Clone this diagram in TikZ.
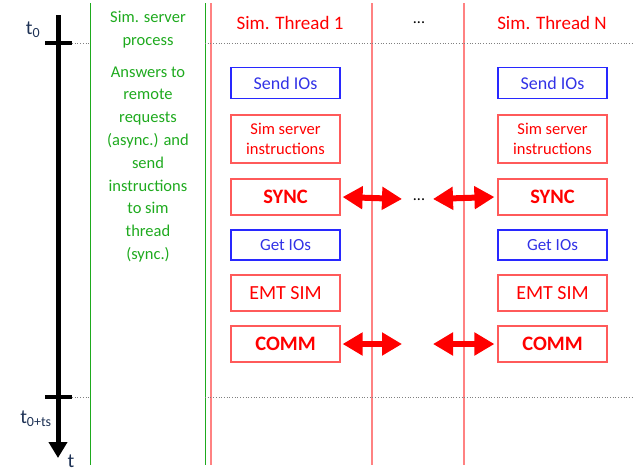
\documentclass[tikz,border=0pt]{standalone}
\usepackage{fontspec}
\setmainfont{Carlito}
\usetikzlibrary{arrows.meta}
\definecolor{mygreen}{RGB}{30,170,30}
\definecolor{linered}{RGB}{255,130,130}
\definecolor{boxred}{RGB}{255,90,90}
\definecolor{txtred}{RGB}{255,0,0}
\definecolor{boxblue}{RGB}{40,40,255}
\definecolor{txtblue}{RGB}{50,50,230}
\definecolor{tcol}{RGB}{30,50,85}
\begin{document}
\begin{tikzpicture}[x=1pt,y=-1pt,
  redbox/.style={draw=boxred,line width=1.2pt,minimum width=109pt,minimum height=36pt,inner sep=0pt,text=txtred,align=center,font=\fontsize{20}{22}\selectfont},
  bluebox/.style={draw=boxblue,line width=1.2pt,minimum width=109pt,minimum height=31pt,inner sep=0pt,text=txtblue,font=\fontsize{18}{20}\selectfont},
  instrbox/.style={redbox,minimum height=48pt,font=\fontsize{16.5}{20}\selectfont},
  boldbox/.style={redbox,font=\fontsize{20.5}{22}\selectfont\bfseries},
  bigarrow/.style={txtred,line width=6pt,{Triangle[length=20pt,width=22pt]}-{Triangle[length=20pt,width=22pt]}},
  dotline/.style={gray,dotted,line width=0.7pt},
  gline/.style={mygreen,line width=1pt},
  rline/.style={linered,line width=1.5pt},
  hdr/.style={text=txtred,font=\fontsize{19}{21}\selectfont},
  gtext/.style={text=mygreen,align=center,font=\fontsize{16.5}{22.8}\selectfont},
  tlab/.style={text=tcol,font=\fontsize{20}{22}\selectfont}
]
\useasboundingbox (0,0) rectangle (642,472);
% vertical lines
\coordinate (g1t) at (90,3); \coordinate (g1b) at (90,465);
\coordinate (g2t) at (205,3); \coordinate (g2b) at (205,465);
\coordinate (r1t) at (211,3); \coordinate (r1b) at (211,465);
\coordinate (r2t) at (372,3); \coordinate (r2b) at (372,465);
\coordinate (r3t) at (464,3); \coordinate (r3b) at (464,465);
\draw[gline] (g1t) -- (g1b);
\draw[gline] (g2t) -- (g2b);
\draw[rline] (r1t) -- (r1b);
\draw[rline] (r2t) -- (r2b);
\draw[rline] (r3t) -- (r3b);
% dotted lines
\coordinate (d1a) at (72,43); \coordinate (d1b) at (89,43);
\coordinate (d1c) at (205,43); \coordinate (d1d) at (632,43);
\coordinate (d2a) at (72,397); \coordinate (d2b) at (89,397);
\coordinate (d2c) at (205,397); \coordinate (d2d) at (632,397);
\draw[dotline] (d1a) -- (d1b);
\draw[dotline] (d1c) -- (d1d);
\draw[dotline] (d2a) -- (d2b);
\draw[dotline] (d2c) -- (d2d);
% time axis
\coordinate (axt) at (58,15); \coordinate (axb) at (58,458);
\draw[black,line width=5pt,-{Triangle[length=16pt,width=18pt]}] (axt) -- (axb);
\coordinate (tk1a) at (45,43); \coordinate (tk1b) at (72,43);
\coordinate (tk2a) at (45,397); \coordinate (tk2b) at (72,397);
\draw[black,line width=4.5pt] (tk1a) -- (tk1b);
\draw[black,line width=4.5pt] (tk2a) -- (tk2b);
\node[tlab] (t0) at (33,30) {t\textsubscript{0}};
\node[tlab] (t0ts) at (36,419) {t\textsubscript{0+ts}};
\node[tlab] (tt) at (71,461) {t};
% green texts
\node[gtext] (ssp) at (148,30) {Sim. server\\process};
\node[gtext,anchor=north] (ans) at (148,63) {Answers to\\remote\\requests\\(async.) and\\send\\instructions\\to sim\\thread\\(sync.)};
% headers
\node[hdr] (h1) at (290,23) {Sim. Thread 1};
\node[font=\fontsize{16}{18}\selectfont] (hd) at (419,23) {...};
\node[hdr] (hN) at (552,23) {Sim. Thread N};
% left column boxes
\node[bluebox] (s1) at (285.5,83) {Send IOs};
\node[instrbox] (i1) at (285.5,139) {Sim server\\instructions};
\node[boldbox] (y1) at (285.5,197) {SYNC};
\node[bluebox,minimum height=30pt,font=\fontsize{17}{19}\selectfont] (g1) at (285.5,245) {Get IOs};
\node[redbox] (e1) at (285.5,293) {EMT SIM};
\node[boldbox] (c1) at (285.5,344) {COMM};
% right column boxes
\node[bluebox] (sN) at (552.5,83) {Send IOs};
\node[instrbox] (iN) at (552.5,139) {Sim server\\instructions};
\node[boldbox] (yN) at (552.5,197) {SYNC};
\node[bluebox,minimum height=30pt,font=\fontsize{17}{19}\selectfont] (gN) at (552.5,245) {Get IOs};
\node[redbox] (eN) at (552.5,293) {EMT SIM};
\node[boldbox] (cN) at (552.5,344) {COMM};
% arrows
\node[font=\fontsize{16}{18}\selectfont] (md) at (419,200) {...};
\coordinate (ya) at (402,199); \coordinate (yb) at (433,199);
\coordinate (ca) at (402,344); \coordinate (cb) at (433,344);
\draw[bigarrow] ([xshift=2pt]y1.east) -- (ya);
\draw[bigarrow] (yb) -- ([xshift=-3pt]yN.west);
\draw[bigarrow] ([xshift=2pt]c1.east) -- (ca);
\draw[bigarrow] (cb) -- ([xshift=-3pt]cN.west);
\end{tikzpicture}
\end{document}
